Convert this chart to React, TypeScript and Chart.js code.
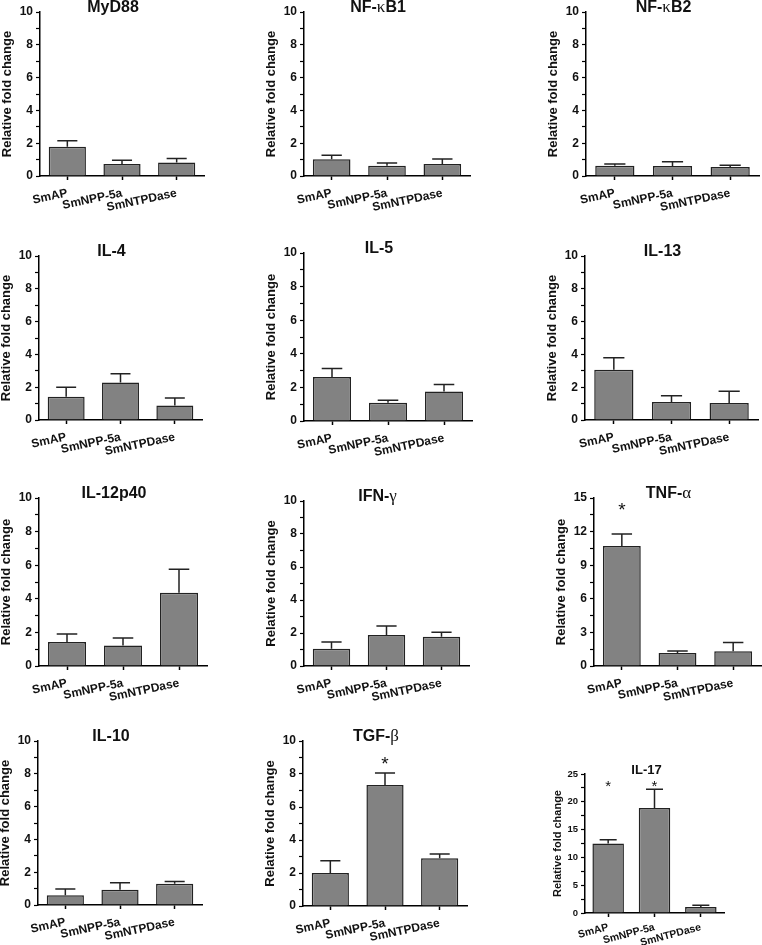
import React, { useEffect, useRef } from 'react';
import { Chart, registerables } from 'chart.js';

Chart.register(...registerables);

// ---------- data ----------
const categories = ['SmAP', 'SmNPP-5a', 'SmNTPDase'];
const yAxisTitle = 'Relative fold change';

const myd88Mean = [1.79, 0.73, 0.83];
const myd88Sem = [0.36, 0.23, 0.23];
const nfkb1Mean = [1.02, 0.63, 0.73];
const nfkb1Sem = [0.24, 0.16, 0.31];
const nfkb2Mean = [0.63, 0.61, 0.55];
const nfkb2Sem = [0.10, 0.26, 0.10];
const il4Mean = [1.42, 2.29, 0.89];
const il4Sem = [0.57, 0.53, 0.45];
const il5Mean = [2.62, 1.09, 1.75];
const il5Sem = [0.51, 0.14, 0.43];
const il13Mean = [3.06, 1.09, 1.03];
const il13Sem = [0.73, 0.39, 0.73];
const il12Mean = [1.43, 1.22, 4.36];
const il12Sem = [0.48, 0.45, 1.40];
const ifngMean = [1.05, 1.88, 1.78];
const ifngSem = [0.41, 0.55, 0.26];
const tnfaMean = [10.72, 1.16, 1.31];
const tnfaSem = [1.07, 0.18, 0.78];
const tnfaSig = [14.2, null, null];
const il10Mean = [0.59, 0.93, 1.30];
const il10Sem = [0.39, 0.43, 0.14];
const tgfbMean = [2.0, 7.33, 2.89];
const tgfbSem = [0.75, 0.73, 0.26];
const tgfbSig = [null, 8.83, null];
const il17Mean = [12.5, 18.9, 1.08];
const il17Sem = [0.66, 3.35, 0.30];
const il17Sig = [23.3, 23.3, null];
const noSig = [null, null, null];

// y-axis ranges: [max, major step]
const range10 = [10, 2];
const range15 = [15, 3];
const range25 = [25, 5];

type Panel = {
  title: string;
  mean: number[];
  sem: number[];
  sig: (number | null)[];
  range: number[];
  box: number[]; // L, R, T, B plot-area in page px
  small?: boolean;
};

const panels: Panel[] = [
  { title: 'MyD88', mean: myd88Mean, sem: myd88Sem, sig: noSig, range: range10, box: [40, 204, 12, 176] },
  { title: 'NF-κB1', mean: nfkb1Mean, sem: nfkb1Sem, sig: noSig, range: range10, box: [304, 470, 12, 176] },
  { title: 'NF-κB2', mean: nfkb2Mean, sem: nfkb2Sem, sig: noSig, range: range10, box: [586, 759, 12, 176] },
  { title: 'IL-4', mean: il4Mean, sem: il4Sem, sig: noSig, range: range10, box: [39, 202, 256, 420] },
  { title: 'IL-5', mean: il5Mean, sem: il5Sem, sig: noSig, range: range10, box: [304, 472, 253, 421] },
  { title: 'IL-13', mean: il13Mean, sem: il13Sem, sig: noSig, range: range10, box: [585, 758, 256, 420] },
  { title: 'IL-12p40', mean: il12Mean, sem: il12Sem, sig: noSig, range: range10, box: [39, 207, 498, 666] },
  { title: 'IFN-γ', mean: ifngMean, sem: ifngSem, sig: noSig, range: range10, box: [304, 469, 501, 666] },
  { title: 'TNF-α', mean: tnfaMean, sem: tnfaSem, sig: tnfaSig, range: range15, box: [594, 761, 498, 666] },
  { title: 'IL-10', mean: il10Mean, sem: il10Sem, sig: noSig, range: range10, box: [38, 202, 741, 905] },
  { title: 'TGF-β', mean: tgfbMean, sem: tgfbSem, sig: tgfbSig, range: range10, box: [303, 467, 741, 906] },
  { title: 'IL-17', mean: il17Mean, sem: il17Sem, sig: il17Sig, range: range25, box: [585, 724, 774, 913], small: true },
];

const SANS = '"Liberation Sans", Arial, sans-serif';
const SERIF = '"Liberation Serif", "Times New Roman", serif';
const INK = '#111';

function BarPanel({ p }: { p: Panel }) {
  const ref = useRef<HTMLCanvasElement>(null);
  const [L, R, T, B] = p.box;
  const small = !!p.small;
  const YW = small ? 38 : 44;
  const TP = 18;
  const RP = 10;
  const XH = small ? 52 : 56;
  const cl = L - YW;
  const ct = T - TP;
  const cw = R - cl + RP;
  const ch = B - ct + XH;
  const fTitle = small ? 13 : 16;
  const fAxis = small ? 11 : 13;
  const fTick = small ? 9.5 : 12;
  const fX = small ? 10.5 : 12;
  const rot = small ? 15 : 12;

  useEffect(() => {
    const [max, major] = p.range;
    const overlay = {
      id: 'overlay',
      afterDatasetsDraw(chart: any) {
        const ctx = chart.ctx;
        const meta = chart.getDatasetMeta(0);
        const ys = chart.scales.y;
        ctx.save();
        ctx.strokeStyle = '#222';
        ctx.lineWidth = 1.5;
        meta.data.forEach((bar: any, i: number) => {
          const x = bar.x;
          const y0 = bar.y;
          const y1 = ys.getPixelForValue(p.mean[i] + p.sem[i]);
          const cap = bar.width * 0.27;
          ctx.beginPath();
          ctx.moveTo(x, y0);
          ctx.lineTo(x, y1);
          ctx.moveTo(x - cap, y1);
          ctx.lineTo(x + cap, y1);
          ctx.stroke();
          const s = p.sig[i];
          if (s !== null && s !== undefined) {
            const fs = small ? 15 : 19;
            ctx.fillStyle = INK;
            ctx.font = `${fs}px ${SANS}`;
            ctx.textAlign = 'center';
            ctx.textBaseline = 'middle';
            ctx.fillText('*', x, ys.getPixelForValue(s) + fs * 0.22);
          }
        });
        ctx.restore();
      },
      afterDraw(chart: any) {
        const ctx = chart.ctx;
        const ca = chart.chartArea;
        const segs: { t: string; greek: boolean }[] = [];
        for (const ch of p.title) {
          const g = /[\u0370-\u03FF]/.test(ch);
          if (segs.length && segs[segs.length - 1].greek === g) segs[segs.length - 1].t += ch;
          else segs.push({ t: ch, greek: g });
        }
        ctx.save();
        ctx.fillStyle = INK;
        ctx.textBaseline = 'alphabetic';
        ctx.textAlign = 'left';
        const fontOf = (g: boolean) => (g ? `${fTitle + 1}px ${SERIF}` : `bold ${fTitle}px ${SANS}`);
        let total = 0;
        segs.forEach((s) => {
          ctx.font = fontOf(s.greek);
          total += ctx.measureText(s.t).width;
        });
        let x = (ca.left + ca.right) / 2 - (small ? 8 : 9) - total / 2;
        segs.forEach((s) => {
          ctx.font = fontOf(s.greek);
          ctx.fillText(s.t, x, ca.top);
          x += ctx.measureText(s.t).width;
        });
        ctx.restore();
      },
    };

    const chart = new Chart(ref.current as HTMLCanvasElement, {
      type: 'bar',
      data: {
        labels: categories,
        datasets: [
          {
            data: p.mean,
            backgroundColor: '#828282',
            borderColor: '#222',
            borderWidth: 1.5,
            barPercentage: 0.68,
            categoryPercentage: 1,
          },
        ],
      },
      options: {
        responsive: false,
        animation: false,
        devicePixelRatio: 1,
        layout: { padding: { left: 0, top: TP, right: RP, bottom: 0 } },
        plugins: {
          legend: { display: false },
          tooltip: { enabled: false },
          title: { display: false },
        },
        scales: {
          x: {
            offset: true,
            grid: {
              display: true,
              drawOnChartArea: false,
              drawTicks: true,
              tickLength: 4,
              offset: false,
              tickColor: '#000',
              tickWidth: 1.5,
            },
            border: { display: true, color: '#000', width: 1.5 },
            ticks: {
              autoSkip: false,
              minRotation: rot,
              maxRotation: rot,
              padding: small ? 4 : 6,
              color: INK,
              font: { family: SANS, size: fX, weight: 'bold' },
            },
            afterFit: (sc: any) => {
              sc.height = XH;
              sc.paddingLeft = 0;
              sc.paddingRight = 0;
            },
          },
          y: {
            min: 0,
            max: max,
            grid: {
              display: true,
              drawOnChartArea: false,
              drawTicks: true,
              tickLength: 4,
              tickColor: '#000',
              tickWidth: 1.2,
            },
            border: { display: true, color: '#000', width: 1.5 },
            ticks: {
              stepSize: major / 2,
              autoSkip: false,
              padding: 3,
              color: INK,
              font: { family: SANS, size: fTick, weight: 'bold' },
              callback: (v: any) => {
                const r = Number(v) / major;
                return Math.abs(r - Math.round(r)) < 1e-6 ? String(v) : '';
              },
            },
            title: {
              display: true,
              text: yAxisTitle,
              color: INK,
              font: { family: SANS, size: fAxis, weight: 'bold' },
              padding: { top: small ? 4 : 4, bottom: 0 },
            },
            afterFit: (sc: any) => {
              sc.width = YW;
              sc.paddingTop = 0;
              sc.paddingBottom = 0;
            },
          },
        },
      } as any,
      plugins: [overlay],
    });
    return () => chart.destroy();
  }, []);

  return (
    <canvas
      ref={ref}
      width={cw}
      height={ch}
      style={{ position: 'absolute', left: cl, top: ct, width: cw, height: ch }}
    />
  );
}

export default function App() {
  return (
    <div
      style={{
        position: 'absolute',
        left: 0,
        top: 0,
        width: 762,
        height: 945,
        overflow: 'hidden',
        background: '#fff',
      }}
    >
      {panels.map((p, i) => (
        <BarPanel key={i} p={p} />
      ))}
    </div>
  );
}
